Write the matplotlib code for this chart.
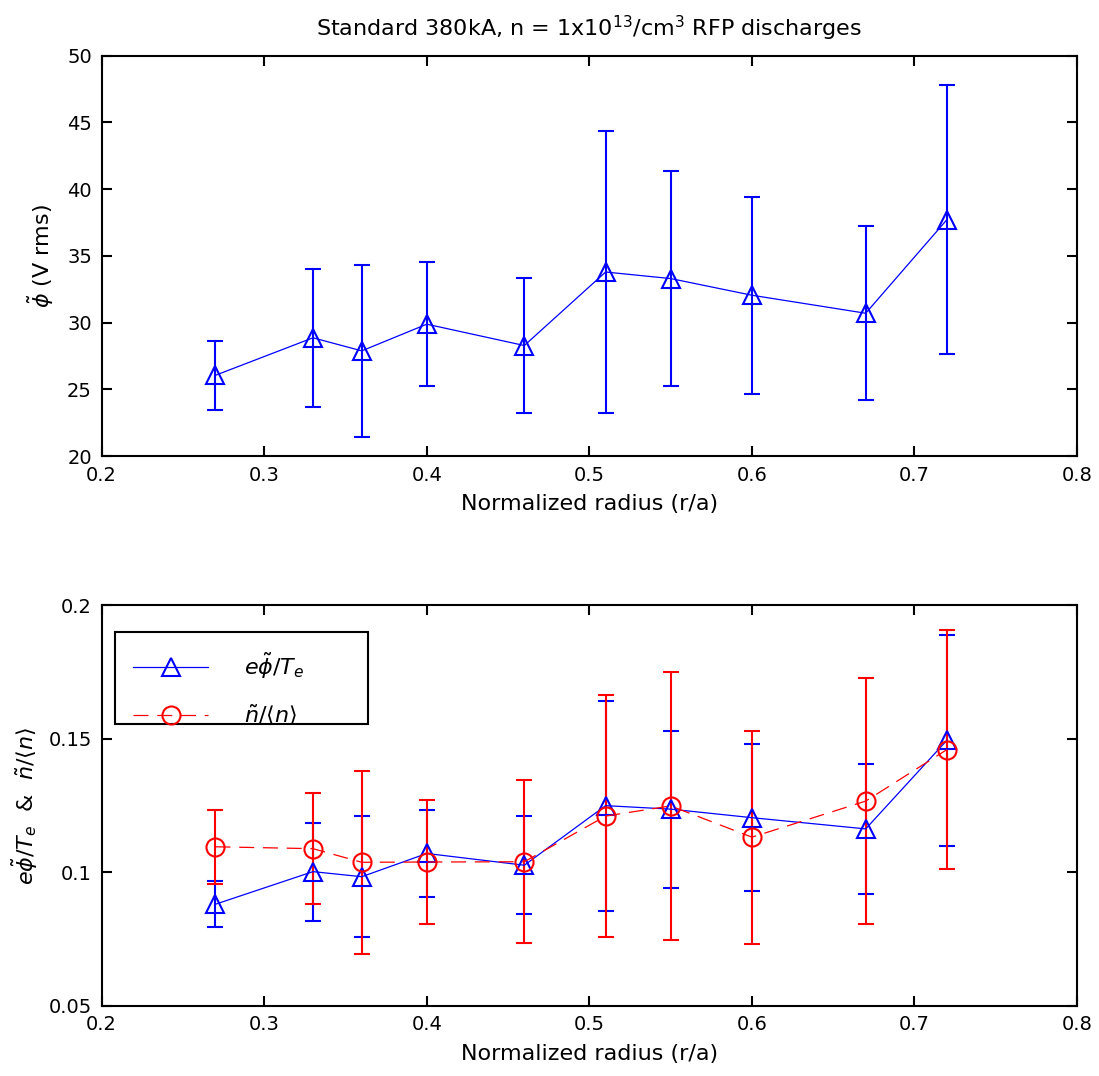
import matplotlib
matplotlib.use("Agg")
import matplotlib.pyplot as plt
from matplotlib.patches import Rectangle
import numpy as np

# ---- data ----
radius = [0.27, 0.33, 0.36, 0.40, 0.46, 0.51, 0.55, 0.60, 0.67, 0.72]

phi_rms = [26.05, 28.86, 27.88, 29.88, 28.28, 33.79, 33.30, 32.05, 30.70, 37.72]
phi_rms_err = [2.59, 5.18, 6.44, 4.67, 5.07, 10.57, 8.09, 7.37, 6.52, 10.07]

ephi_te = [0.0880, 0.1002, 0.0983, 0.1070, 0.1026, 0.1249, 0.1236, 0.1204, 0.1162, 0.1494]
ephi_te_err = [0.0086, 0.0183, 0.0227, 0.0164, 0.0184, 0.0393, 0.0294, 0.0275, 0.0244, 0.0395]

n_norm = [0.1095, 0.1088, 0.1037, 0.1038, 0.1039, 0.1210, 0.1248, 0.1131, 0.1266, 0.1459]
n_norm_err = [0.0139, 0.0208, 0.0342, 0.0233, 0.0306, 0.0454, 0.0502, 0.0399, 0.0460, 0.0447]

xticks = [0.2, 0.3, 0.4, 0.5, 0.6, 0.7, 0.8]
xticklabels = ["0.2", "0.3", "0.4", "0.5", "0.6", "0.7", "0.8"]
yticks_top = [20, 25, 30, 35, 40, 45, 50]
yticks_bot = [0.05, 0.1, 0.15, 0.2]
yticklabels_bot = ["0.05", "0.1", "0.15", "0.2"]

title = r"Standard 380kA, n = 1x10$^{13}$/cm$^3$ RFP discharges"
xlabel = "Normalized radius (r/a)"
ylabel_top = r"$\tilde{\phi}$ (V rms)"
ylabel_bot = r"$e\tilde{\phi}/T_e$  &  $\tilde{n}/\langle n\rangle$"
label_phi = r"$e\tilde{\phi}/T_e$"
label_n = r"$\tilde{n}/\langle n\rangle$"

plt.rcParams['font.family'] = ['DejaVu Sans']
plt.rcParams['mathtext.fontset'] = 'dejavusans'
FS_TICK = 14
FS_LAB = 16

fig = plt.figure(figsize=(10.99, 10.76), dpi=100)
ax1 = fig.add_axes([0.0925, 0.5762, 0.8875, 0.372])
ax2 = fig.add_axes([0.0925, 0.0653, 0.8875, 0.3724])

BLUE = "#0000ff"
RED = "#ff0000"

def style(ax):
    for s in ax.spines.values():
        s.set_linewidth(1.5)
    ax.tick_params(direction='in', length=7, width=1.5, top=True, right=True,
                   labelsize=FS_TICK, pad=7)
    ax.set_xlim(0.2, 0.8)
    ax.set_xticks(xticks)
    ax.set_xticklabels(xticklabels)
    ax.set_xlabel(xlabel, fontsize=FS_LAB, labelpad=7)

# top panel
ax1.errorbar(radius, phi_rms, yerr=phi_rms_err, color=BLUE, lw=0.9,
             elinewidth=1.5, capsize=6, capthick=1.5, marker='^', ms=13,
             mfc='none', mec=BLUE, mew=1.5)
style(ax1)
ax1.set_ylim(20, 50)
ax1.set_yticks(yticks_top)
ax1.set_ylabel(ylabel_top, fontsize=FS_LAB, labelpad=8)
ax1.set_title(title, fontsize=FS_LAB, pad=14)

# bottom panel
ax2.errorbar(radius, ephi_te, yerr=ephi_te_err, color=BLUE, lw=0.9,
             elinewidth=1.5, capsize=6, capthick=1.5, marker='^', ms=13,
             mfc='none', mec=BLUE, mew=1.5, label=label_phi)
ax2.errorbar(radius, n_norm, yerr=n_norm_err, color=RED, lw=0.9,
             elinewidth=1.5, capsize=6, capthick=1.5, marker='o', ms=13,
             mfc='none', mec=RED, mew=1.5, dashes=(12, 7), label=label_n)
style(ax2)
ax2.set_ylim(0.05, 0.2)
ax2.set_yticks(yticks_bot)
ax2.set_yticklabels(yticklabels_bot)
ax2.set_ylabel(ylabel_bot, fontsize=FS_LAB, labelpad=6)

# legend: frame drawn separately (MATLAB-style padding)
ax2.add_patch(Rectangle((0.0136, 0.703), 0.2594, 0.2296, transform=ax2.transAxes,
                        fill=True, facecolor='white', edgecolor='black',
                        linewidth=1.5, zorder=5))
h, l = ax2.get_legend_handles_labels()
h = [hh[0] for hh in h]
leg = ax2.legend(h, l, loc='upper left', bbox_to_anchor=(0.032, 0.885),
                 borderaxespad=0, borderpad=0, fontsize=FS_LAB, handlelength=3.4,
                 handletextpad=1.6, labelspacing=0.97, frameon=False)
leg.set_zorder(6)

fig.savefig("out.png", dpi=100)
